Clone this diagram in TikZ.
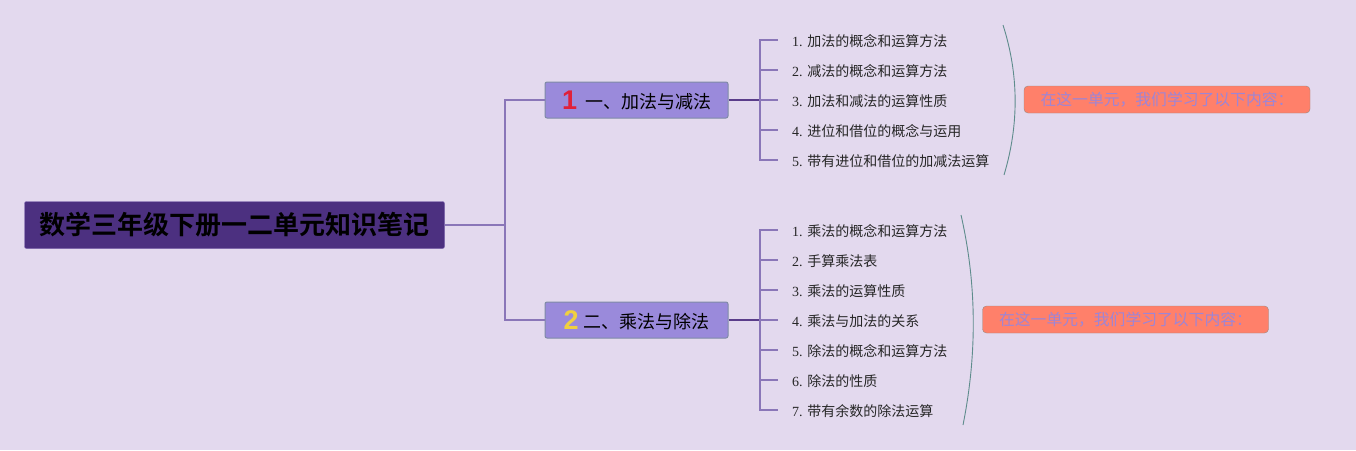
\documentclass[tikz,border=0pt]{standalone}
\usepackage{fontspec}
\setmainfont{Liberation Serif}
\newfontfamily\cjk{Noto Sans CJK SC}
\newfontfamily\cjkb{Noto Sans CJK SC Bold}
\newfontfamily\numf{Liberation Sans}
\definecolor{bgc}{HTML}{E3D9EE}
\definecolor{rootfill}{HTML}{4C3080}
\definecolor{rootdraw}{HTML}{7B64B0}
\definecolor{brfill}{HTML}{9A8ADB}
\definecolor{brdraw}{HTML}{7F8AA6}
\definecolor{lnlight}{HTML}{8A76B8}
\definecolor{lndark}{HTML}{5A3D8A}
\definecolor{bracec}{HTML}{5E8C8C}
\definecolor{sumfill}{HTML}{FF806A}
\definecolor{sumdraw}{HTML}{9A8A80}
\definecolor{sumtext}{HTML}{9D85D6}
\definecolor{numred}{HTML}{E0203A}
\definecolor{numyel}{HTML}{F0D040}
\begin{document}
\begin{tikzpicture}[x=1pt,y=-1pt,
  rootbox/.style={draw=rootdraw,fill=rootfill,rounded corners=2pt,minimum width=420pt,minimum height=47pt,inner sep=0pt,font=\cjkb\fontsize{26}{28}\selectfont,text=black},
  brbox/.style={draw=brdraw,line width=1pt,fill=brfill,rounded corners=2pt,minimum width=183pt,minimum height=36pt,inner sep=0pt,font=\cjk\fontsize{18}{20}\selectfont,text=black},
  child/.style={anchor=west,inner sep=0pt,font=\fontsize{14}{16}\selectfont,text=black!85},
  sumbox/.style={draw=sumdraw,fill=sumfill,rounded corners=4pt,minimum width=286pt,minimum height=27pt,inner sep=0pt,font=\cjk\fontsize{15.8}{18}\selectfont,text=sumtext},
  light/.style={draw=lnlight,line width=1.3pt},
  dark/.style={draw=lndark,line width=2pt},
  bracel/.style={draw=bracec,line width=0.9pt}]
\fill[bgc] (0,0) rectangle (1356,450);
\useasboundingbox (0,0) rectangle (1356,450);
% root
\node[rootbox] (root) at (234.5,225) {数学三年级下册一二单元知识笔记};
% branches
\node[brbox] (b1) at (636.5,100) {\raisebox{-1pt}{\numf\bfseries\fontsize{27}{27}\selectfont\color{numred}1}\hspace{8pt}一、加法与减法};
\node[brbox] (b2) at (636.5,320) {\raisebox{-1pt}{\numf\bfseries\fontsize{27}{27}\selectfont\color{numyel}2}\hspace{5pt}二、乘法与除法};
\coordinate (rj) at (505,225);
\draw[light] (root.east) -- (rj);
\draw[light] (rj) |- (b1.west);
\draw[light] (rj) |- (b2.west);
% branch 1 children
\coordinate (j1) at (760,100);
\draw[dark] (b1.east) -- (j1);
\node[child] (c11) at (792,41) {1. {\cjk 加法的概念和运算方法}};
\node[child] (c12) at (792,71) {2. {\cjk 减法的概念和运算方法}};
\node[child] (c13) at (792,101) {3. {\cjk 加法和减法的运算性质}};
\node[child] (c14) at (792,131) {4. {\cjk 进位和借位的概念与运用}};
\node[child] (c15) at (792,161) {5. {\cjk 带有进位和借位的加减法运算}};
\foreach \c in {c11,c12,c13,c14,c15}{
  \draw[light,line width=1.2pt] (j1) |- ([xshift=-14pt,yshift=1pt]\c.west);
}
% branch 2 children
\coordinate (j2) at (760,320);
\draw[dark] (b2.east) -- (j2);
\node[child] (c21) at (792,231) {1. {\cjk 乘法的概念和运算方法}};
\node[child] (c22) at (792,261) {2. {\cjk 手算乘法表}};
\node[child] (c23) at (792,291) {3. {\cjk 乘法的运算性质}};
\node[child] (c24) at (792,321) {4. {\cjk 乘法与加法的关系}};
\node[child] (c25) at (792,351) {5. {\cjk 除法的概念和运算方法}};
\node[child] (c26) at (792,381) {6. {\cjk 除法的性质}};
\node[child] (c27) at (792,411) {7. {\cjk 带有余数的除法运算}};
\foreach \c in {c21,c22,c23,c24,c25,c26,c27}{
  \draw[light,line width=1.2pt] (j2) |- ([xshift=-14pt,yshift=1pt]\c.west);
}
% braces
\coordinate (t1) at (1003,25);
\coordinate (e1) at (1004,175);
\draw[bracel] (t1) .. controls (1019,75) and (1019,125) .. (e1);
\coordinate (t2) at (961,215);
\coordinate (e2) at (963,425);
\draw[bracel] (t2) .. controls (977,285) and (977,355) .. (e2);
% summaries
\node[sumbox] (s1) at (1167,99.5) {在这一单元，我们学习了以下内容：};
\node[sumbox] (s2) at (1125.5,319.5) {在这一单元，我们学习了以下内容：};
\end{tikzpicture}
\end{document}
